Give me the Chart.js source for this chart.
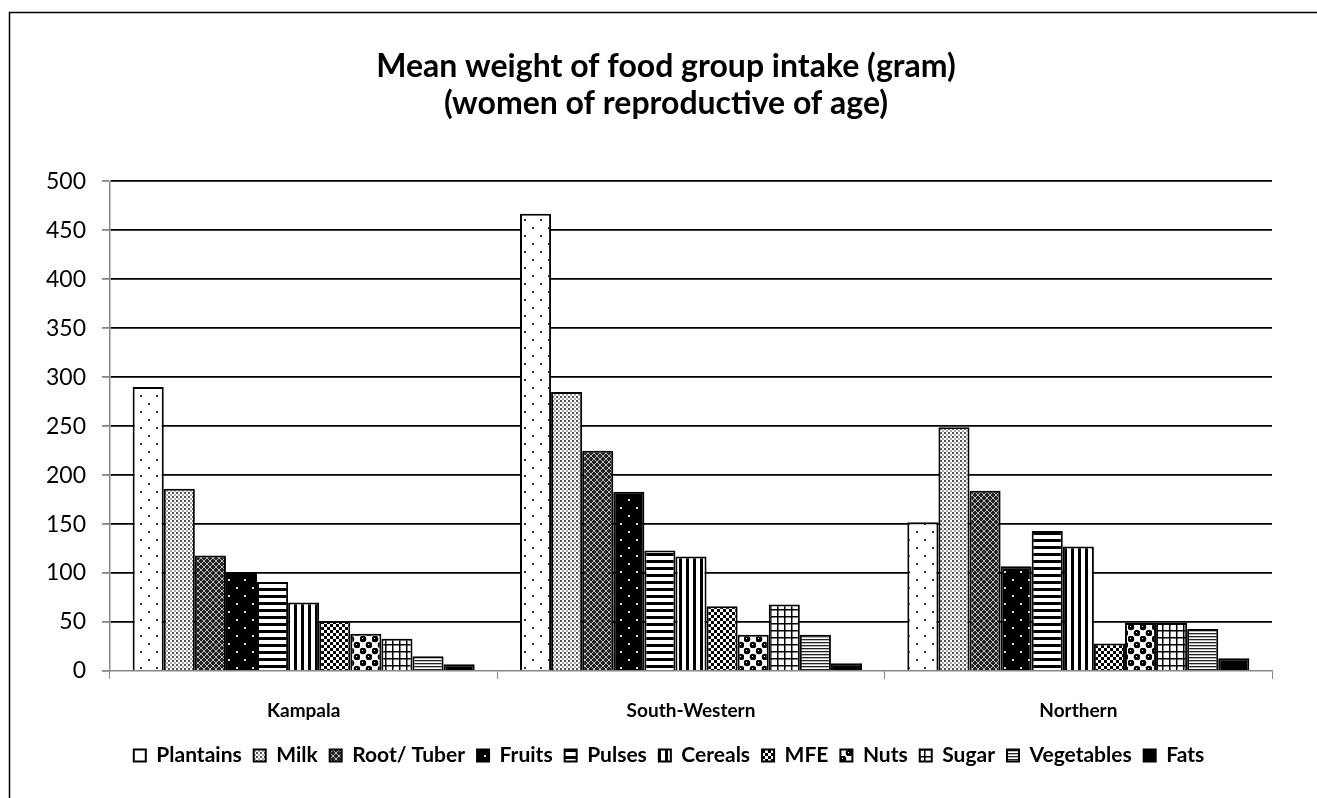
<!DOCTYPE html>
<html>
<head>
<meta charset="utf-8">
<script src="https://cdn.jsdelivr.net/npm/chart.js@4.4.1/dist/chart.umd.min.js"></script>
<style>
  html, body { margin: 0; padding: 0; background: #fff; overflow: hidden; }
  #wrap { width: 1317px; height: 798px; }
  canvas { display: block; }
</style>
</head>
<body>
<div id="wrap"><canvas id="chart" width="1317" height="798"></canvas></div>
<script>
// data
const regions = ["Kampala", "South-Western", "Northern"];
const groups = ["Plantains", "Milk", "Root/ Tuber", "Fruits", "Pulses", "Cereals", "MFE", "Nuts", "Sugar", "Vegetables", "Fats"];
const plantains  = [290, 467, 152];
const milk       = [186, 285, 249];
const rootTuber  = [118, 225, 184];
const fruits     = [101, 183, 107];
const pulses     = [91, 123, 143];
const cereals    = [70, 117, 127];
const mfe        = [51, 66, 28];
const nuts       = [38, 37, 49];
const sugar      = [33, 68, 49];
const vegetables = [15, 37, 43];
const fats       = [7, 8, 13];
const yTicks = [0, 50, 100, 150, 200, 250, 300, 350, 400, 450, 500];

const FONT = "Lato, 'Open Sans', sans-serif";

// small fill patterns, like the old office hatch fills
function pat(w, h, draw) {
  const c = document.createElement('canvas');
  c.width = w; c.height = h;
  const g = c.getContext('2d');
  draw(g);
  return g.createPattern(c, 'repeat');
}

const fills = [
  // plantains: sparse dots on white
  pat(16, 16, g => {
    g.fillStyle = '#fff'; g.fillRect(0, 0, 16, 16);
    g.fillStyle = '#333';
    g.fillRect(4, 3, 2, 2); g.fillRect(12, 11, 2, 2);
  }),
  // milk: dense grey dots
  pat(4, 4, g => {
    g.fillStyle = '#fff'; g.fillRect(0, 0, 4, 4);
    g.fillStyle = '#555'; g.fillRect(0, 0, 2, 2);
    g.fillStyle = '#aaa'; g.fillRect(2, 2, 2, 2);
  }),
  // root/tuber: dark diamond lattice
  pat(6, 6, g => {
    g.fillStyle = '#222'; g.fillRect(0, 0, 6, 6);
    g.fillStyle = '#bbb';
    g.fillRect(2, 0, 2, 1); g.fillRect(1, 1, 1, 1); g.fillRect(4, 1, 1, 1);
    g.fillRect(0, 2, 1, 2); g.fillRect(5, 2, 1, 2);
    g.fillRect(1, 4, 1, 1); g.fillRect(4, 4, 1, 1); g.fillRect(2, 5, 2, 1);
  }),
  // fruits: black with white dots
  pat(16, 16, g => {
    g.fillStyle = '#000'; g.fillRect(0, 0, 16, 16);
    g.fillStyle = '#ddd';
    g.fillRect(4, 3, 2, 2); g.fillRect(12, 11, 2, 2);
  }),
  // pulses: wide horizontal stripes
  pat(7, 7, g => {
    g.fillStyle = '#fff'; g.fillRect(0, 0, 7, 7);
    g.fillStyle = '#000'; g.fillRect(0, 0, 7, 3);
  }),
  // cereals: vertical stripes
  pat(7, 7, g => {
    g.fillStyle = '#fff'; g.fillRect(0, 0, 7, 7);
    g.fillStyle = '#000'; g.fillRect(0, 0, 3, 7);
  }),
  // MFE: small checkerboard
  pat(6, 6, g => {
    g.fillStyle = '#fff'; g.fillRect(0, 0, 6, 6);
    g.fillStyle = '#000'; g.fillRect(0, 0, 3, 3); g.fillRect(3, 3, 3, 3);
  }),
  // nuts: spheres
  pat(12, 12, g => {
    g.fillStyle = '#fff'; g.fillRect(0, 0, 12, 12);
    g.fillStyle = '#000';
    [[3, 3], [9, 9]].forEach(p => {
      g.beginPath(); g.arc(p[0], p[1], 3.3, 0, Math.PI * 2); g.fill();
    });
    g.fillStyle = '#fff';
    g.fillRect(2, 2, 1, 1); g.fillRect(8, 8, 1, 1);
  }),
  // sugar: small grid
  pat(7, 7, g => {
    g.fillStyle = '#fff'; g.fillRect(0, 0, 7, 7);
    g.fillStyle = '#000'; g.fillRect(0, 0, 7, 1.5); g.fillRect(0, 0, 1.5, 7);
  }),
  // vegetables: narrow horizontal lines
  pat(4, 3, g => {
    g.fillStyle = '#fff'; g.fillRect(0, 0, 4, 3);
    g.fillStyle = '#222'; g.fillRect(0, 0, 4, 1.3);
  }),
  // fats: solid black
  '#000'
];

const series = [plantains, milk, rootTuber, fruits, pulses, cereals, mfe, nuts, sugar, vegetables, fats];

const datasets = groups.map((name, i) => ({
  label: name,
  data: series[i],
  backgroundColor: fills[i],
  borderColor: '#000',
  borderWidth: 2,
  categoryPercentage: 0.883,
  barPercentage: 1.0
}));

// frame line on top and left like the original export,
// and nudge title/legend to where they sit in the original
const framePlugin = {
  id: 'frame',
  afterLayout(chart) {
    if (chart.titleBlock) { chart.titleBlock.left += 30; chart.titleBlock.right += 30; }
    if (chart.legend) { chart.legend.left += 33; chart.legend.right += 33; }
  },
  afterDraw(chart) {
    const ctx = chart.ctx;
    ctx.save();
    ctx.strokeStyle = '#000';
    ctx.lineWidth = 1.5;
    ctx.beginPath();
    ctx.moveTo(9.5, 798);
    ctx.lineTo(9.5, 12.5);
    ctx.lineTo(1317, 12.5);
    ctx.stroke();
    ctx.restore();
  }
};

new Chart(document.getElementById('chart'), {
  type: 'bar',
  data: { labels: regions, datasets: datasets },
  plugins: [framePlugin],
  options: {
    responsive: false,
    animation: false,
    layout: { padding: { left: 0, right: 45, top: 0, bottom: 22 } },
    plugins: {
      title: {
        display: true,
        text: ['Mean weight of food group intake (gram)', '(women of reproductive of age)'],
        color: '#000',
        font: { family: FONT, size: 32, weight: 'bold', lineHeight: 1.13 },
        padding: { top: 49, bottom: 60 }
      },
      legend: {
        position: 'bottom',
        labels: {
          color: '#000',
          font: { family: FONT, size: 21, weight: 'bold' },
          boxWidth: 12,
          boxHeight: 12,
          padding: 12
        }
      },
      tooltip: { enabled: false }
    },
    scales: {
      x: {
        grid: {
          offset: true,
          drawOnChartArea: false,
          color: '#888',
          tickLength: 8
        },
        border: { color: '#888', width: 1.5 },
        ticks: {
          color: '#000',
          font: { family: FONT, size: 19, weight: 'bold' },
          padding: 20
        },
        afterFit(scale) { scale.height = 62; }
      },
      y: {
        min: 0,
        max: 500,
        afterBuildTicks(scale) { scale.ticks = yTicks.map(v => ({ value: v })); },
        grid: {
          color: ctx => (ctx.tick && ctx.tick.value === 0) ? 'rgba(0,0,0,0)' : '#000',
          lineWidth: 1.8,
          tickColor: '#888',
          tickLength: 8
        },
        border: { color: '#888', width: 1.5 },
        ticks: {
          color: '#000',
          font: { family: FONT, size: 23 },
          padding: 16
        },
        afterFit(scale) { scale.width = 110; }
      }
    }
  }
});
</script>
</body>
</html>
